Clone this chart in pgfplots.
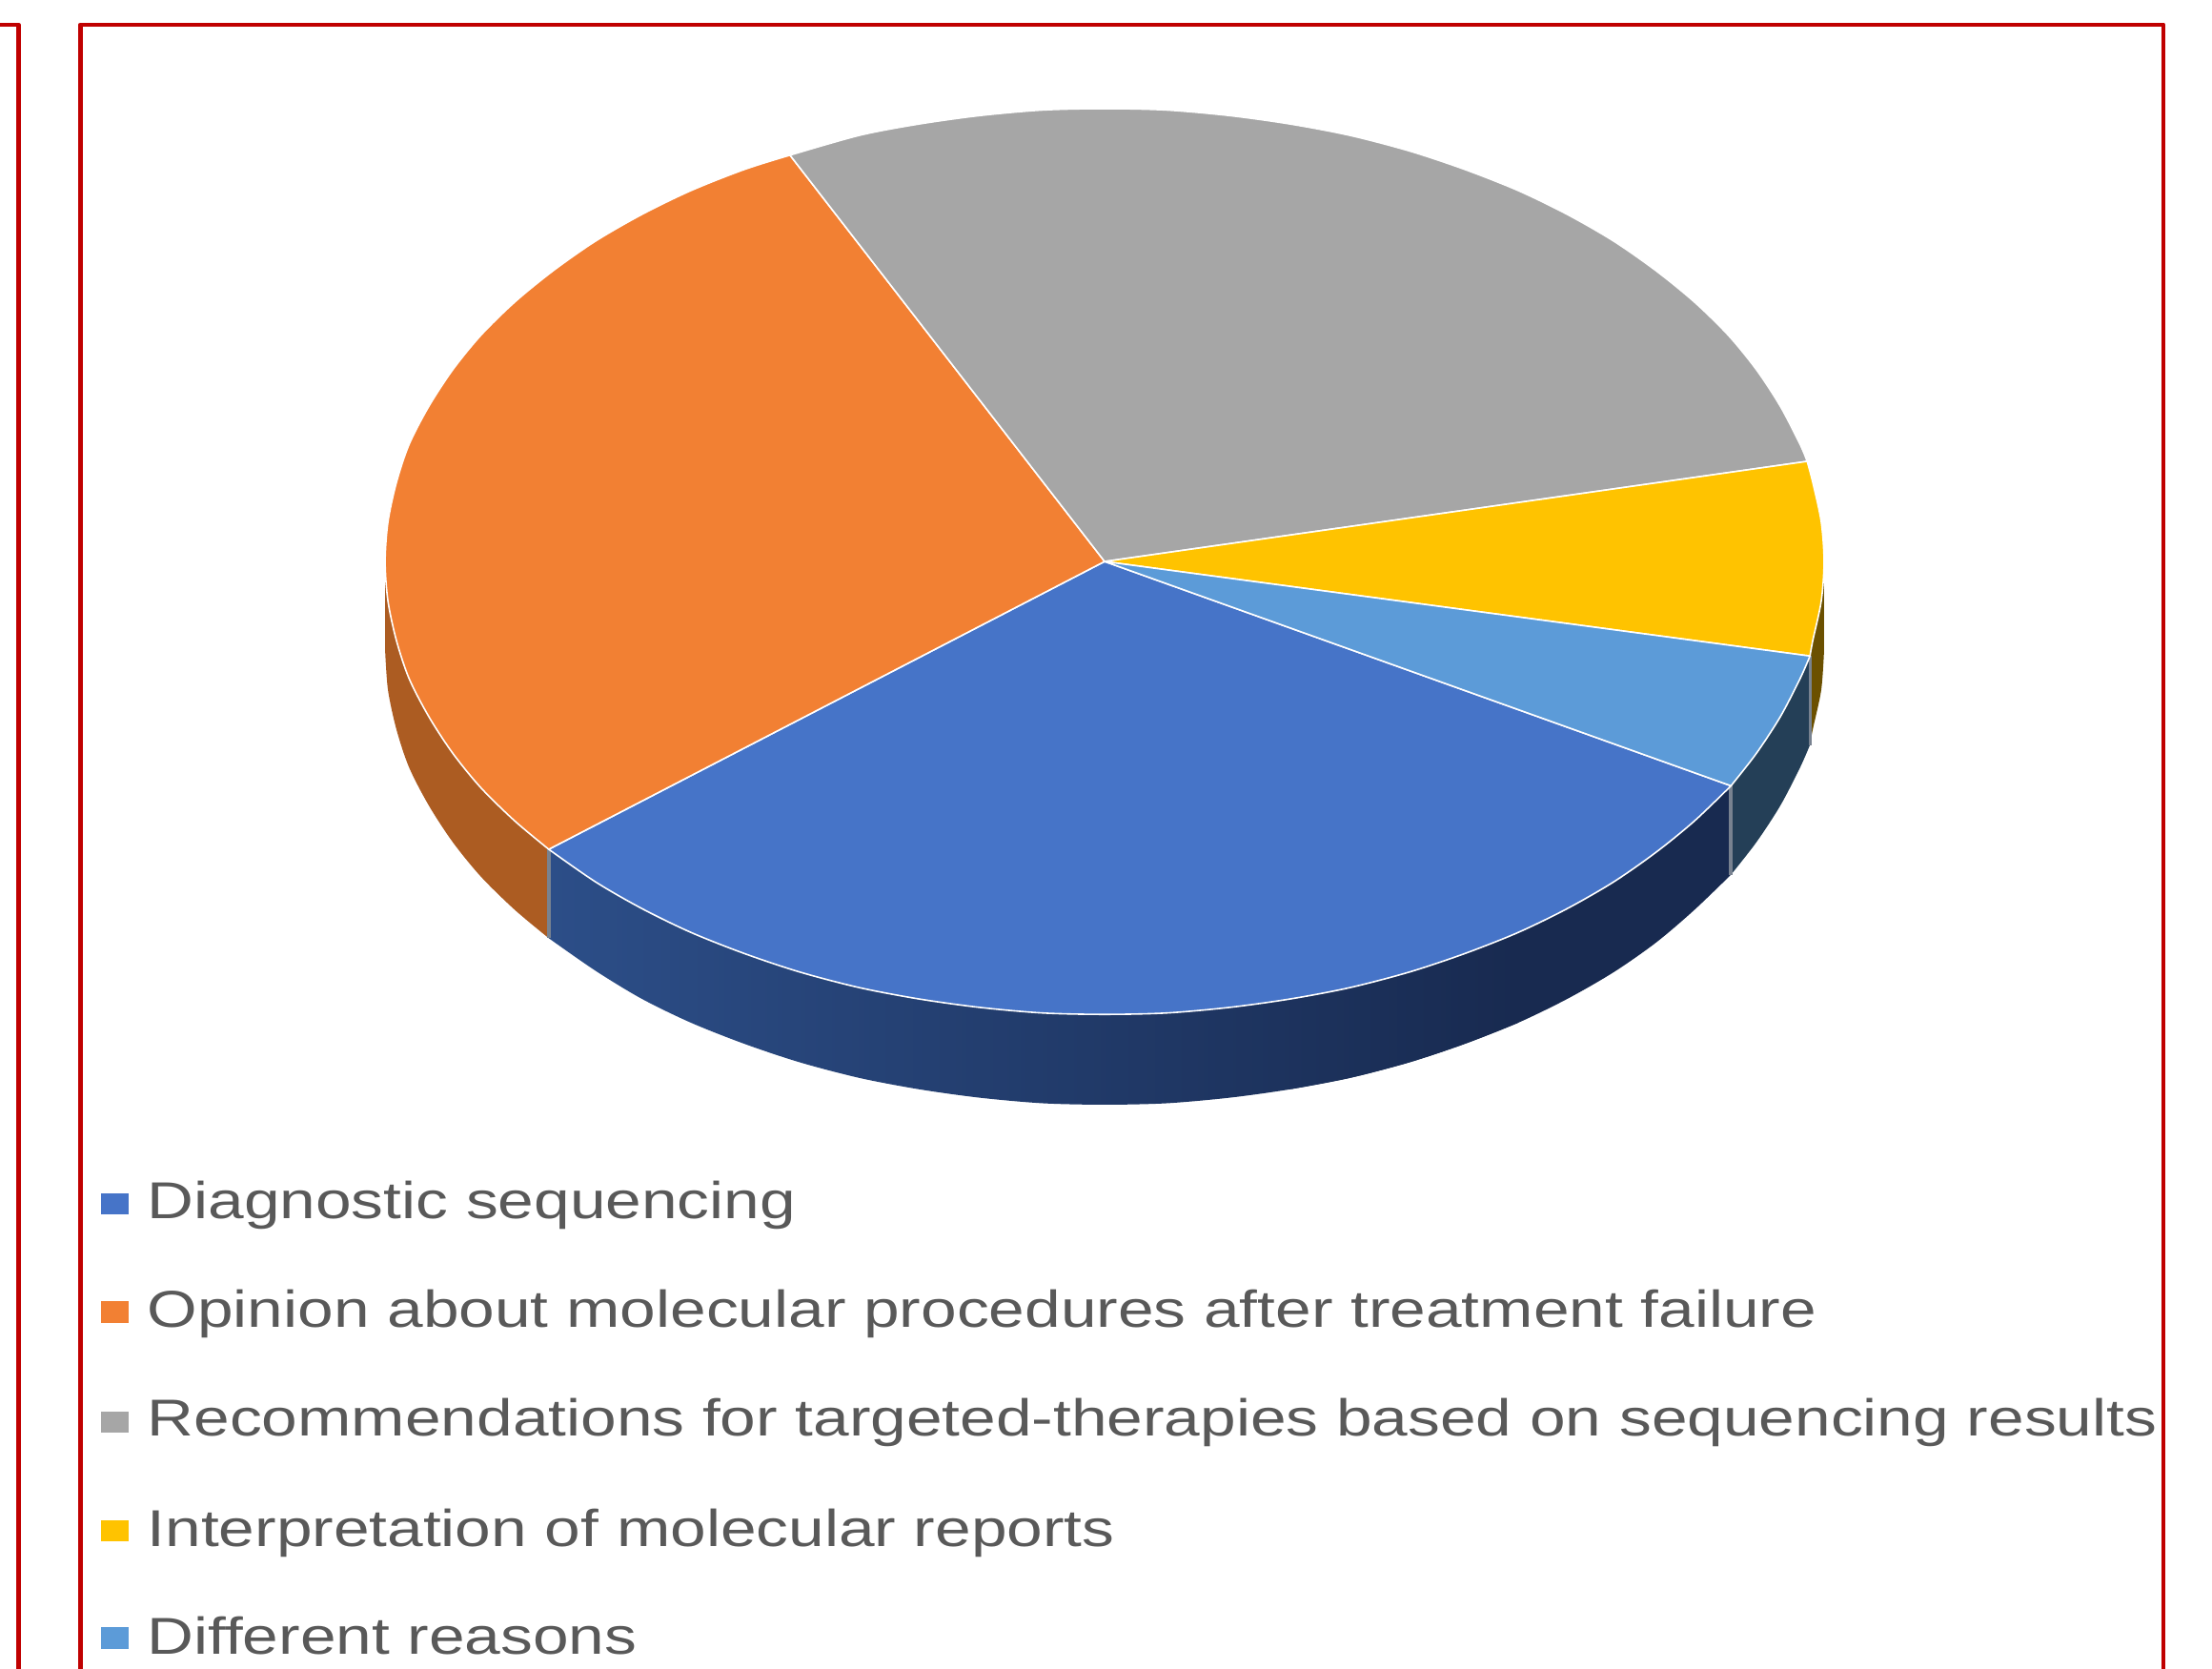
\documentclass[border=0pt]{standalone}
\usepackage{pgfplots}
\pgfplotsset{compat=1.18}
\usepackage{graphicx}
\usepackage{fontspec}
\setmainfont{Liberation Sans}
\definecolor{cBlue}{HTML}{4674C8}
\definecolor{cOrange}{HTML}{F28033}
\definecolor{cGray}{HTML}{A6A6A6}
\definecolor{cYellow}{HTML}{FFC300}
\definecolor{cLight}{HTML}{5C9BD8}
\definecolor{wOrange}{HTML}{AC5C22}
\definecolor{wBlueA}{HTML}{2C4E88}
\definecolor{wBlueB}{HTML}{182A50}
\definecolor{wLight}{HTML}{243F57}
\definecolor{wYellow}{HTML}{6B5000}
\definecolor{sep}{HTML}{788290}
\definecolor{frameRed}{HTML}{C00000}
\definecolor{txt}{HTML}{595959}
\newcommand{\legtext}[2]{\node[anchor=base west,inner sep=0pt,text=txt,font=\fontsize{13.6}{16}\selectfont] at (axis cs:104,#1) {\scalebox{1.243}[1]{#2}};}
\begin{document}
\begin{tikzpicture}
\useasboundingbox (0,0) rectangle (580.25pt,437.75pt);
\begin{axis}[
  at={(0,0)}, anchor=south west,
  width=580.25pt, height=437.75pt, scale only axis,
  xmin=0, xmax=1568, ymin=0, ymax=1183, y dir=reverse,
  hide axis, clip=true,
]
% frames
\addplot[frameRed, line width=1.15pt, line join=round] coordinates {(57,1190) (57,17.5) (1533.5,17.5) (1533.5,1190)};
\addplot[frameRed, line width=1.15pt, line join=round] coordinates {(-5,17.5) (13.2,17.5) (13.2,1190)};
% walls: lower rim as smooth arc, closed behind the top face
\addplot[draw=none, fill=wOrange, smooth] coordinates {(273,461) (275,489) (281,517) (290,544) (304,571) (321,597) (341,621.5) (365,645) (389,665)} -- (axis cs:389,602) -- (axis cs:500,398) -- (axis cs:273,398) -- cycle;
\addplot[draw=none, fill=wBlueB, smooth] coordinates {(915,772) (957,764) (999,753) (1038,740) (1076,725) (1111,708) (1144,689) (1174,668) (1201,645) (1227,620)} -- (axis cs:1227,557) -- (axis cs:915,500) -- cycle;
\addplot[draw=none, left color=wBlueA, middle color=wBlueB, right color=wBlueB, smooth] coordinates {(389,665) (422,688) (455,708) (490,725) (528,740) (567,753) (609,764) (651,772) (694,778) (739,782) (783,783) (827,782) (872,778) (915,772) (957,764) (999,753) (1038,740) (1076,725)} -- (axis cs:1076,500) -- (axis cs:389,602) -- cycle;
\addplot[draw=none, fill=wLight, smooth] coordinates {(1227,620) (1245,597) (1262,571) (1276,544) (1283,528)} -- (axis cs:1283,465) -- (axis cs:1100,500) -- (axis cs:1227,557) -- cycle;
\addplot[draw=none, fill=wYellow, smooth] coordinates {(1283,528) (1285,517) (1291,489) (1293,461)} -- (axis cs:1293,398) -- (axis cs:1200,420) -- (axis cs:1283,465) -- cycle;
% separators on the walls
\addplot[sep, line width=0.9pt] coordinates {(389,602) (389,665)};
\addplot[sep, line width=0.9pt] coordinates {(1227,557) (1227,620)};
\addplot[sep, line width=0.7pt] coordinates {(1283,465) (1283,528)};
% top slices
\addplot[draw=white, line width=0.4pt, line join=round, fill=cBlue, smooth] coordinates {(1227,557) (1201,582) (1174,604) (1144,625) (1111,644) (1076,661) (1038,676) (999,689) (957,700) (915,708) (872,714) (827,718) (783,719) (739,718) (694,714) (651,708) (609,700) (567,689) (528,676) (490,661) (455,644) (422,625) (389,602)} -- (axis cs:783,398) -- cycle;
\addplot[draw=white, line width=0.4pt, line join=round, fill=cOrange, smooth] coordinates {(389,602) (365,582) (341,558.5) (321,534) (304,508) (290,481) (281,454) (275,426) (273,398) (275,370) (281,342) (290,315) (304,288) (321,262) (341,237.5) (365,214) (392,192) (422,171) (455,152) (490,135) (528,120) (560,110)} -- (axis cs:783,398) -- cycle;
\addplot[draw=white, line width=0.4pt, line join=round, fill=cGray, smooth] coordinates {(560,110) (609,96) (651,88) (694,82) (739,78) (783,77) (827,78) (872,82) (915,88) (957,96) (999,107) (1038,120) (1076,135) (1111,152) (1144,171) (1174,192) (1201,214) (1225,237.5) (1245,262) (1262,288) (1276,315) (1281,327)} -- (axis cs:783,398) -- cycle;
\addplot[draw=white, line width=0.4pt, line join=round, fill=cYellow, smooth] coordinates {(1281,327) (1285,342) (1291,370) (1293,398) (1291,426) (1285,454) (1283,465)} -- (axis cs:783,398) -- cycle;
\addplot[draw=white, line width=0.4pt, line join=round, fill=cLight, smooth] coordinates {(1283,465) (1276,481) (1262,508) (1245,534) (1227,557)} -- (axis cs:783,398) -- cycle;
% legend keys
\addplot[draw=none, fill=cBlue] coordinates {(71.5,846) (91,846) (91,861) (71.5,861)} --cycle;
\addplot[draw=none, fill=cOrange] coordinates {(71.5,922.5) (91,922.5) (91,937.5) (71.5,937.5)} --cycle;
\addplot[draw=none, fill=cGray] coordinates {(71.5,1000.5) (91,1000.5) (91,1015.5) (71.5,1015.5)} --cycle;
\addplot[draw=none, fill=cYellow] coordinates {(71.5,1077.5) (91,1077.5) (91,1092.5) (71.5,1092.5)} --cycle;
\addplot[draw=none, fill=cLight] coordinates {(71.5,1153.5) (91,1153.5) (91,1168.5) (71.5,1168.5)} --cycle;
% legend text
\legtext{864}{Diagnostic sequencing}
\legtext{941}{Opinion about molecular procedures after treatment failure}
\legtext{1018}{Recommendations for targeted-therapies based on sequencing results}
\legtext{1096}{Interpretation of molecular reports}
\legtext{1172.5}{Different reasons}
\end{axis}
\end{tikzpicture}
\end{document}
